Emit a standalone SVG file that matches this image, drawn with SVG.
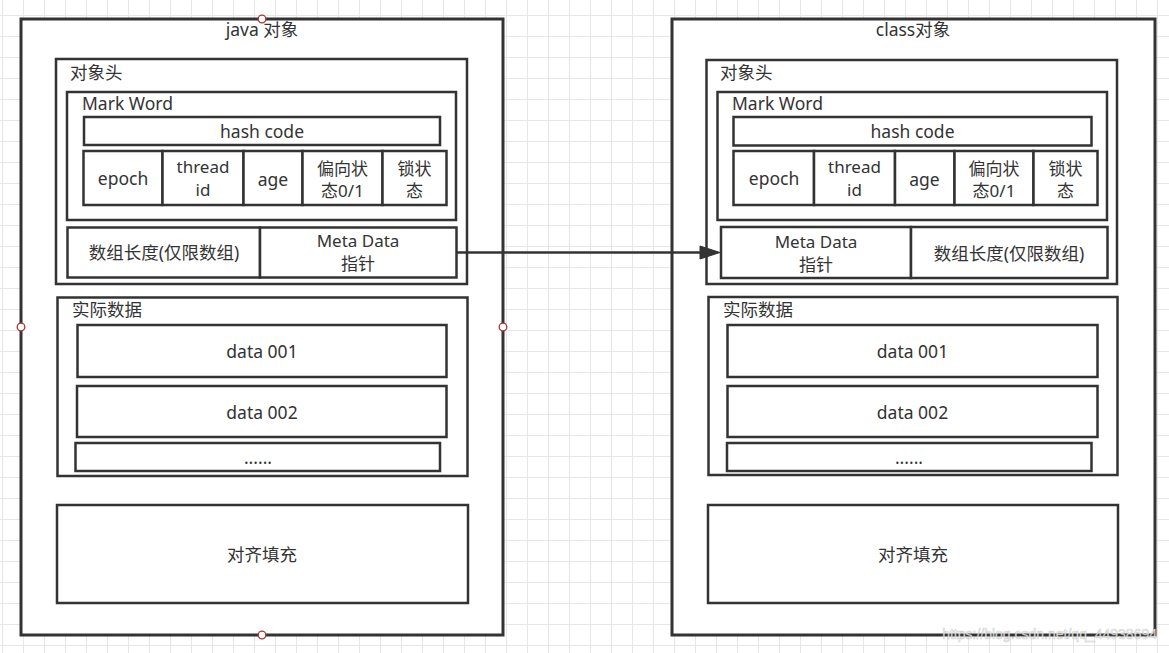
<svg xmlns="http://www.w3.org/2000/svg" width="1169" height="653" viewBox="0 0 1169 653">
<defs>
<pattern id="grid" x="2" y="15" width="21" height="21" patternUnits="userSpaceOnUse">
<path d="M0 0.5H21M0.5 0V21" fill="none" stroke="#e6e6e6" stroke-width="1"/>
</pattern>
</defs>
<style>
.bx{fill:#fff;stroke:#333;stroke-width:2.5}
.ob{fill:#fff;stroke:#333;stroke-width:3}
.t{font-family:"Noto Sans","Noto Sans CJK SC",sans-serif;font-size:17.5px;fill:#333}
.s{font-size:17px}
.m{text-anchor:middle}
.h{fill:#fff;stroke:#a33;stroke-width:1.3}
.wm{font-family:"Liberation Sans","Noto Sans",sans-serif;font-size:14px;fill:#fff;fill-opacity:0.85;stroke:#aaa;stroke-width:0.6;stroke-opacity:0.6}
</style>
<rect width="1169" height="653" fill="#fff"/>
<rect width="1169" height="653" fill="url(#grid)"/>

<g id="java-object">
<rect class="ob" x="21" y="19" width="482" height="616"/>
<text class="t m" x="262" y="36">java 对象</text>
</g>
<g id="java-header">
<rect class="bx" x="56" y="59" width="411" height="225"/>
<text class="t" x="70" y="79">对象头</text>
</g>
<g id="java-markword">
<rect class="bx" x="67" y="92" width="389" height="128"/>
<text class="t" x="82" y="110">Mark Word</text>
</g>
<g id="java-hashcode">
<rect class="bx" x="84" y="117" width="356" height="28"/>
<text class="t m" x="262" y="138">hash code</text>
</g>
<g id="java-epoch">
<rect class="bx" x="83.5" y="151" width="79" height="54"/>
<text class="t m" x="123" y="185">epoch</text>
</g>
<g id="java-threadid">
<rect class="bx" x="162.5" y="151" width="81" height="54"/>
<text class="t s m" x="203" y="173">thread</text>
<text class="t s m" x="203" y="196">id</text>
</g>
<g id="java-age">
<rect class="bx" x="243.5" y="151" width="59" height="54"/>
<text class="t m" x="273" y="186">age</text>
</g>
<g id="java-biased">
<rect class="bx" x="302.5" y="151" width="80" height="54"/>
<text class="t s m" x="342.5" y="175">偏向状</text>
<text class="t s m" x="342.5" y="197">态0/1</text>
</g>
<g id="java-lock">
<rect class="bx" x="382.5" y="151" width="64" height="54"/>
<text class="t s m" x="414.5" y="175">锁状</text>
<text class="t s m" x="414.5" y="197">态</text>
</g>
<g id="java-arraylen">
<rect class="bx" x="67.5" y="227.5" width="192.5" height="50"/>
<text class="t m" x="164" y="259">数组长度(仅限数组)</text>
</g>
<g id="java-metadata">
<rect class="bx" x="260" y="227.5" width="196.5" height="50"/>
<text class="t s m" x="358" y="247">Meta Data</text>
<text class="t s m" x="358" y="270">指针</text>
</g>
<g id="java-instancedata">
<rect class="bx" x="57.5" y="297.5" width="410" height="178.5"/>
<text class="t" x="72" y="316">实际数据</text>
</g>
<g id="java-data001">
<rect class="bx" x="77.5" y="325" width="369" height="52"/>
<text class="t m" x="262" y="358">data 001</text>
</g>
<g id="java-data002">
<rect class="bx" x="77" y="386" width="369.5" height="51"/>
<text class="t m" x="262" y="418.5">data 002</text>
</g>
<g id="java-more">
<rect class="bx" x="75.5" y="443" width="364.5" height="28"/>
<text class="t m" x="258" y="464">......</text>
</g>
<g id="java-padding">
<rect class="bx" x="57" y="505" width="411" height="98"/>
<text class="t m" x="262" y="561">对齐填充</text>
</g>

<g id="class-object">
<rect class="ob" x="672" y="19" width="483" height="616"/>
<text class="t m" x="913" y="36">class对象</text>
</g>
<g id="class-header">
<rect class="bx" x="706.5" y="60" width="410.5" height="224"/>
<text class="t" x="720" y="79">对象头</text>
</g>
<g id="class-markword">
<rect class="bx" x="717.5" y="92" width="389.5" height="128"/>
<text class="t" x="732" y="110">Mark Word</text>
</g>
<g id="class-hashcode">
<rect class="bx" x="733.5" y="117" width="358" height="28.5"/>
<text class="t m" x="912.5" y="138">hash code</text>
</g>
<g id="class-epoch">
<rect class="bx" x="733.5" y="151" width="80.5" height="54"/>
<text class="t m" x="774" y="185">epoch</text>
</g>
<g id="class-threadid">
<rect class="bx" x="814" y="151" width="81" height="54"/>
<text class="t s m" x="854.5" y="173">thread</text>
<text class="t s m" x="854.5" y="196">id</text>
</g>
<g id="class-age">
<rect class="bx" x="895" y="151" width="59.5" height="54"/>
<text class="t m" x="924.5" y="186">age</text>
</g>
<g id="class-biased">
<rect class="bx" x="954.5" y="151" width="79" height="54"/>
<text class="t s m" x="994" y="175">偏向状</text>
<text class="t s m" x="994" y="197">态0/1</text>
</g>
<g id="class-lock">
<rect class="bx" x="1033.5" y="151" width="64" height="54"/>
<text class="t s m" x="1065.5" y="175">锁状</text>
<text class="t s m" x="1065.5" y="197">态</text>
</g>
<g id="class-metadata">
<rect class="bx" x="721" y="227" width="190" height="51"/>
<text class="t s m" x="816" y="248">Meta Data</text>
<text class="t s m" x="816" y="271">指针</text>
</g>
<g id="class-arraylen">
<rect class="bx" x="911" y="227" width="196.5" height="51"/>
<text class="t m" x="1009" y="260">数组长度(仅限数组)</text>
</g>
<g id="class-instancedata">
<rect class="bx" x="708.5" y="297" width="409" height="178"/>
<text class="t" x="723" y="316">实际数据</text>
</g>
<g id="class-data001">
<rect class="bx" x="727.5" y="325" width="370" height="52"/>
<text class="t m" x="912.5" y="358">data 001</text>
</g>
<g id="class-data002">
<rect class="bx" x="727.5" y="386" width="370" height="51"/>
<text class="t m" x="912.5" y="418.5">data 002</text>
</g>
<g id="class-more">
<rect class="bx" x="727" y="443" width="364.5" height="28"/>
<text class="t m" x="909" y="464">......</text>
</g>
<g id="class-padding">
<rect class="bx" x="708" y="505" width="410" height="98"/>
<text class="t m" x="913" y="561">对齐填充</text>
</g>

<g id="connectors">
<line x1="456.5" y1="252.5" x2="702" y2="252.5" stroke="#333" stroke-width="2.5"/>
<polygon points="700,246 720,252.5 700,259" fill="#333" stroke="#333" stroke-width="1"/>
</g>

<g id="handles">
<circle class="h" cx="262" cy="19" r="3.8"/>
<circle class="h" cx="21" cy="327" r="3.8"/>
<circle class="h" cx="503" cy="327" r="3.8"/>
<circle class="h" cx="262" cy="635" r="3.8"/>
</g>

<text class="wm" x="1157" y="639" text-anchor="end">https://blog.csdn.net/qq_44938694</text>
</svg>
